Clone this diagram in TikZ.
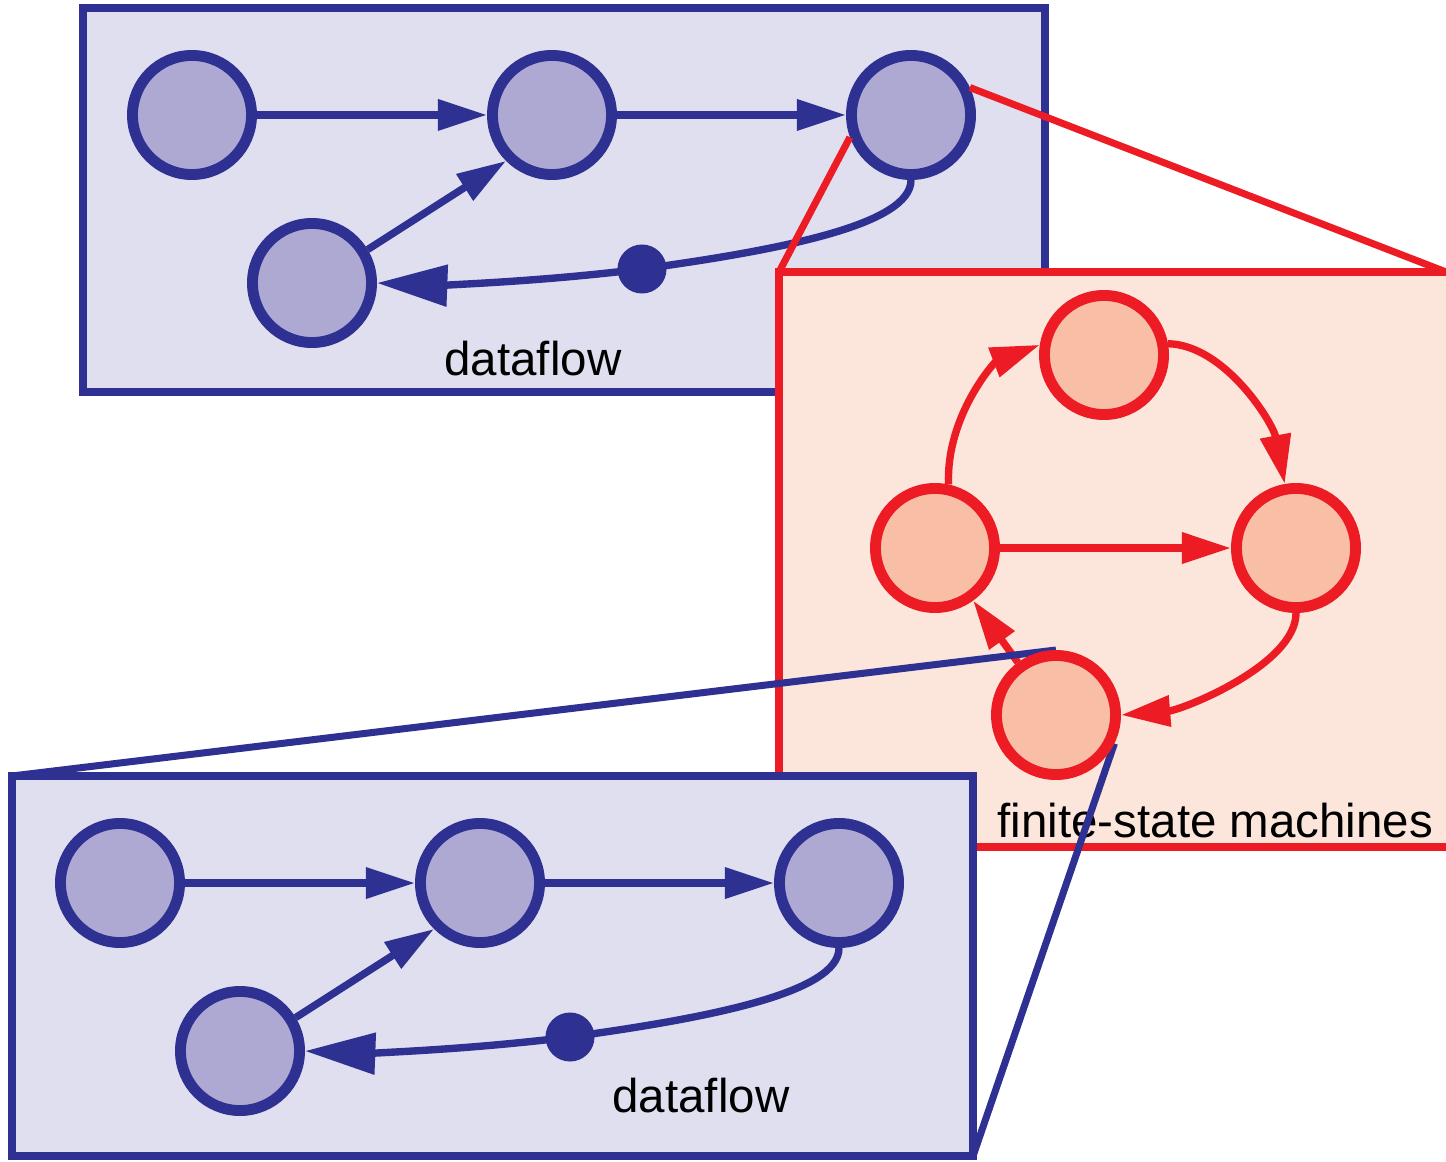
\documentclass[tikz,border=0pt]{standalone}
\usepackage{fontspec}
\setmainfont{Liberation Sans}
\usetikzlibrary{arrows.meta}

\definecolor{dfblue}{RGB}{46, 49, 146}
\definecolor{dfback}{RGB}{223, 223, 239}
\definecolor{dfstatefill}{RGB}{173, 169, 211}
\definecolor{fsmred}{RGB}{237, 28, 36}
\definecolor{fsmback}{RGB}{252, 230, 220}
\definecolor{fsmstatefill}{RGB}{249, 190, 166}

\pgfdeclarelayer{front}
\pgfsetlayers{main,front}

\begin{document}
\begin{tikzpicture}[x = 0.01cm, y = -0.01cm,
	dfbox/.style = {draw = dfblue, fill = dfback, line width = 2.3pt},
	dfstate/.style = {circle, draw = dfblue, fill = dfstatefill, line width = 3.1pt, minimum size = 1.19cm, inner sep = 0pt},
	dftoken/.style = {circle, fill = dfblue, minimum size = 0.49cm, inner sep = 0pt},
	dfarrow/.style = {draw = dfblue, line width = 2.1pt, -{Triangle[length = 14pt, width = 8.5pt]}},
	dfdelay/.style = {draw = dfblue, line width = 2.1pt, -{Triangle[length = 20pt, width = 11.5pt]}},
	dfzoom/.style = {draw = dfblue, line width = 2pt},
	fsmbox/.style = {draw = fsmred, fill = fsmback, line width = 2.3pt},
	fsmstate/.style = {circle, draw = fsmred, fill = fsmstatefill, line width = 3.1pt, minimum size = 1.19cm, inner sep = 0pt},
	fsmarrow/.style = {draw = fsmred, line width = 2.1pt, -{Triangle[length = 14pt, width = 8.5pt]}},
	fsmzoom/.style = {draw = fsmred, line width = 2pt},
	boxlabel/.style = {font = \fontsize{13.5pt}{16pt}\selectfont, inner sep = 0pt}]
	\useasboundingbox (0, 0) rectangle (1446, 1161);

	% upper dataflow model
	\draw [dfbox] (83, 8) rectangle (1045, 392);
	\node (A1) at (192, 115) [dfstate] {};
	\node (A2) at (552, 115) [dfstate] {};
	\node (A3) at (911, 115) [dfstate] {};
	\node (A4) at (312, 283) [dfstate] {};
	\node (dotA) at (642, 269) [dftoken] {};
	\draw [dfarrow] (A1.east) -- (A2.west);
	\draw [dfarrow] (A2.east) -- (A3.west);
	\draw [dfarrow] (A4.31) -- (A2.225);
	\draw [dfdelay] (A3.south) .. controls (911, 225) and (780, 250) .. (dotA.center) .. controls (530, 283) and (430, 285) .. (A4.east);
	\node at (533, 376) [boxlabel, anchor = base] {dataflow};

	% zoom into the refined actor
	\coordinate (fsmNW) at (779, 272);
	\coordinate (fsmNE) at (1446, 272);
	\draw [fsmzoom] (A3.25) -- (fsmNE);
	\draw [fsmzoom] (A3.200) -- (fsmNW);

	% finite-state machine
	\draw [fsmbox] (fsmNW) rectangle (1452, 847);
	\begin{pgfonlayer}{front}
		\node (C1) at (1104, 355) [fsmstate] {};
		\node (C2) at (935, 548) [fsmstate] {};
		\node (C3) at (1296, 548) [fsmstate] {};
		\node (C4) at (1056, 715) [fsmstate] {};
	\end{pgfonlayer}
	\draw [fsmarrow] (C2.78) .. controls (946, 415) and (995, 362) .. (C1.171);
	\draw [fsmarrow] (C1.10) .. controls (1225, 345) and (1273, 423) .. (C3.100);
	\draw [fsmarrow] (C2) -- (C3);
	\draw [fsmarrow] (C3.south) .. controls (1296, 665) and (1182, 710) .. (C4.east);
	\draw [fsmarrow] (C4) -- (C2);
	\node at (997, 837) [boxlabel, anchor = base west] {finite-state machines};

	% lower dataflow model
	\draw [dfbox] (12, 776) rectangle (973, 1156);
	\node (B1) at (120, 883) [dfstate] {};
	\node (B2) at (480, 883) [dfstate] {};
	\node (B3) at (839, 883) [dfstate] {};
	\node (B4) at (240, 1051) [dfstate] {};
	\node (dotB) at (570, 1037) [dftoken] {};
	\draw [dfarrow] (B1.east) -- (B2.west);
	\draw [dfarrow] (B2.east) -- (B3.west);
	\draw [dfarrow] (B4.31) -- (B2.225);
	\draw [dfdelay] (B3.south) .. controls (839, 993) and (708, 1018) .. (dotB.center) .. controls (458, 1051) and (358, 1053) .. (B4.east);
	\node at (701, 1112) [boxlabel, anchor = base] {dataflow};

	% zoom into the refined state
	\coordinate (dfNW) at (12, 776);
	\coordinate (dfSE) at (973, 1156);
	\draw [dfzoom] (C4.north) -- (dfNW);
	\draw [dfzoom] (C4.-26) -- (dfSE);
\end{tikzpicture}
\end{document}
